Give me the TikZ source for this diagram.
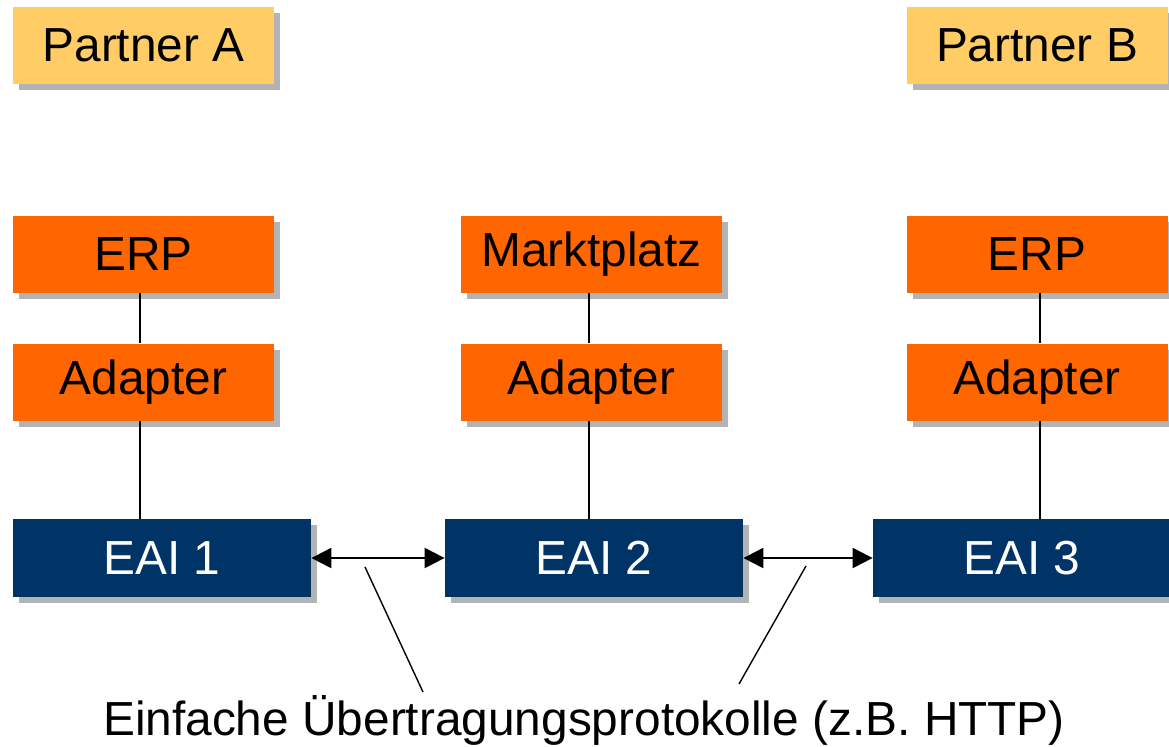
\documentclass[tikz,border=0pt]{standalone}
\usepackage{fontspec}
\setmainfont{Liberation Sans}
\usetikzlibrary{arrows.meta,shadows}

\definecolor{Partner}{HTML}{FFCC66}
\definecolor{System}{HTML}{FF6600}
\definecolor{Eai}{HTML}{003366}
\definecolor{Schatten}{HTML}{B3B3B3}

\tikzset{
  kasten/.style={minimum width=130.5pt, minimum height=38.5pt, inner sep=0pt,
    font=\fontsize{23.9}{28}\selectfont,
    drop shadow={shadow xshift=3pt, shadow yshift=-3pt, fill=Schatten, opacity=1}},
  partner/.style={kasten, fill=Partner},
  system/.style={kasten, fill=System},
  eai/.style={kasten, fill=Eai, text=white, minimum width=149pt, minimum height=39pt},
  verbindung/.style={line width=0.8pt},
  pfeil/.style={line width=1.1pt, {Triangle[length=10pt,width=10pt]}-{Triangle[length=10pt,width=10pt]}},
  zeiger/.style={line width=0.7pt}
}

\begin{document}
\begin{tikzpicture}[x=0.5pt, y=-0.5pt]

 \useasboundingbox (0,0) rectangle (1169,746);

  %%%%%%%%%% Partner %%%%%%%%%%
 \node[partner] (partnerA) at (143.5,45.5) {Partner A};
 \node[partner] (partnerB) at (1037,45.5) {Partner B};

  %%%%%%%%%% Systeme %%%%%%%%%%
 \node[system] (erpA) at (143.5,254) {ERP};
 \node[system] (adapterA) at (143.5,382) {Adapter};
 \node[system] (markt) at (591.5,254) {Marktplatz};
 \node[system] (adapterM) at (591.5,382) {Adapter};
 \node[system] (erpB) at (1037,254) {ERP};
 \node[system] (adapterB) at (1037,382) {Adapter};

  %%%%%%%%%% EAI %%%%%%%%%%
 \node[eai] (eai1) at (162,558) {EAI 1};
 \node[eai] (eai2) at (594,558) {EAI 2};
 \node[eai] (eai3) at (1022,558) {EAI 3};

  %%%%%%%%%% Verbindungen %%%%%%%%%%
 \draw[verbindung] ([xshift=-1.75pt]erpA.south) -- ([xshift=-1.75pt]adapterA.north);
 \draw[verbindung] ([xshift=-1.75pt]adapterA.south) -- ([xshift=-1.75pt]adapterA.south |- eai1.north);
 \draw[verbindung] ([xshift=-1.25pt]markt.south) -- ([xshift=-1.25pt]adapterM.north);
 \draw[verbindung] ([xshift=-1.25pt]adapterM.south) -- ([xshift=-1.25pt]adapterM.south |- eai2.north);
 \draw[verbindung] ([xshift=1.5pt]erpB.south) -- ([xshift=1.5pt]adapterB.north);
 \draw[verbindung] ([xshift=1.5pt]adapterB.south) -- ([xshift=1.5pt]adapterB.south |- eai3.north);

 \draw[pfeil] (eai1) -- (eai2);
 \draw[pfeil] (eai2) -- (eai3);

  %%%%%%%%%% Protokolle %%%%%%%%%%
 \node[anchor=base, font=\fontsize{23.9}{28}\selectfont] (protokoll) at (584,735)
   {Einfache Übertragungsprotokolle (z.B. HTTP)};

 \coordinate (ende1) at (365,567);
 \coordinate (fuss1) at (423,692);
 \coordinate (ende2) at (806,566);
 \coordinate (fuss2) at (739,684);
 \draw[zeiger] (ende1) -- (fuss1);
 \draw[zeiger] (ende2) -- (fuss2);

\end{tikzpicture}
\end{document}
